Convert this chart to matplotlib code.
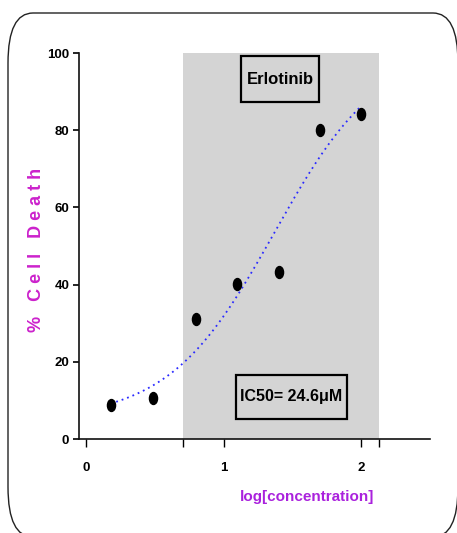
import numpy as np
import matplotlib
matplotlib.use("Agg")
import matplotlib.pyplot as plt
from matplotlib.path import Path
from matplotlib.transforms import Affine2D
from matplotlib.patches import FancyBboxPatch, Rectangle

# datos
log_conc = [0.18, 0.49, 0.80, 1.10, 1.40, 1.70, 2.00]
muerte = [8.8, 10.7, 31.0, 40.2, 43.2, 80.0, 84.1]

# parametros del ajuste sigmoidal (4PL)
fondo = 5.0
tope = 102.0
log_ic50 = 1.37
pendiente = 1.13

# zona sombreada
banda = (0.705, 2.133)

fuente = ['Liberation Sans', 'DejaVu Sans']

W, H = 457, 533
fig = plt.figure(figsize=(W / 100, H / 100), dpi=100)

# marco redondeado (coordenadas en pixeles)
bg = fig.add_axes([0, 0, 1, 1])
bg.set_xlim(0, W)
bg.set_ylim(H, 0)
bg.axis('off')
marco = FancyBboxPatch((8, 13), 450, 524, boxstyle="round,pad=0,rounding_size=25",
                       mutation_aspect=2, fc='white', ec='#222222', lw=1.0)
bg.add_patch(marco)

ax = fig.add_axes([79 / W, 1 - 439 / H, 351 / W, 386 / H])
ax.patch.set_alpha(0)
ax.set_xlim(-0.05, 2.5)
ax.set_ylim(0, 100)

ax.axvspan(banda[0], banda[1], ymin=0, ymax=1, color='#d4d4d4', lw=0, zorder=0)

# curva ajustada
xs = np.linspace(log_conc[0], log_conc[-1], 200)
ys = fondo + (tope - fondo) / (1 + 10 ** ((log_ic50 - xs) * pendiente))
ax.plot(xs, ys, color='#2a2aff', lw=1.3, ls=(0, (1, 2.2)), zorder=2)

# marcador eliptico
elipse = Path.unit_circle().transformed(Affine2D().scale(0.68, 1.0))
ax.plot(log_conc, muerte, ls='none', marker=elipse, ms=8.6, color='black', zorder=3)

for s in ['top', 'right']:
    ax.spines[s].set_visible(False)
for s in ['left', 'bottom']:
    ax.spines[s].set_linewidth(1.2)
    ax.spines[s].set_color('#111111')

ax.set_yticks([0, 20, 40, 60, 80, 100])
ax.set_xticks([0, 1, 2])
ax.set_xticks(list(banda), minor=True)
ax.tick_params(axis='y', length=4, width=1.2, pad=3)
ax.tick_params(axis='x', which='both', length=5.5, width=1.0, pad=11)
for lab in ax.get_xticklabels() + ax.get_yticklabels():
    lab.set_family(fuente)
    lab.set_fontweight('bold')
    lab.set_fontsize(9.5)

# cuadros de texto por encima de la banda
top = fig.add_axes([0, 0, 1, 1])
top.set_xlim(0, W)
top.set_ylim(H, 0)
top.axis('off')
top.patch.set_alpha(0)
top.add_patch(Rectangle((241, 56), 78, 45.5, fill=False, ec='black', lw=1.6))
top.text(280, 79, 'Erlotinib', family=fuente, weight='bold', fontsize=12,
         ha='center', va='center')
top.add_patch(Rectangle((236, 374.5), 111, 44.5, fill=False, ec='black', lw=1.6))
top.text(291, 397, 'IC50= 24.6\u03bcM', family=fuente, weight='bold', fontsize=11.5,
         ha='center', va='center')

fig.text(37 / W, 1 - 250 / H, '%   C e l l   D e a t h', family=fuente, weight='bold',
         fontsize=13, color='#cc22cc', rotation=90, ha='center', va='center')
fig.text(307.5 / W, 1 - 496.5 / H, 'log[concentration]', family=fuente, weight='bold',
         fontsize=11, color='#aa22dd', ha='center', va='center')

fig.savefig('out.png', dpi=100)
